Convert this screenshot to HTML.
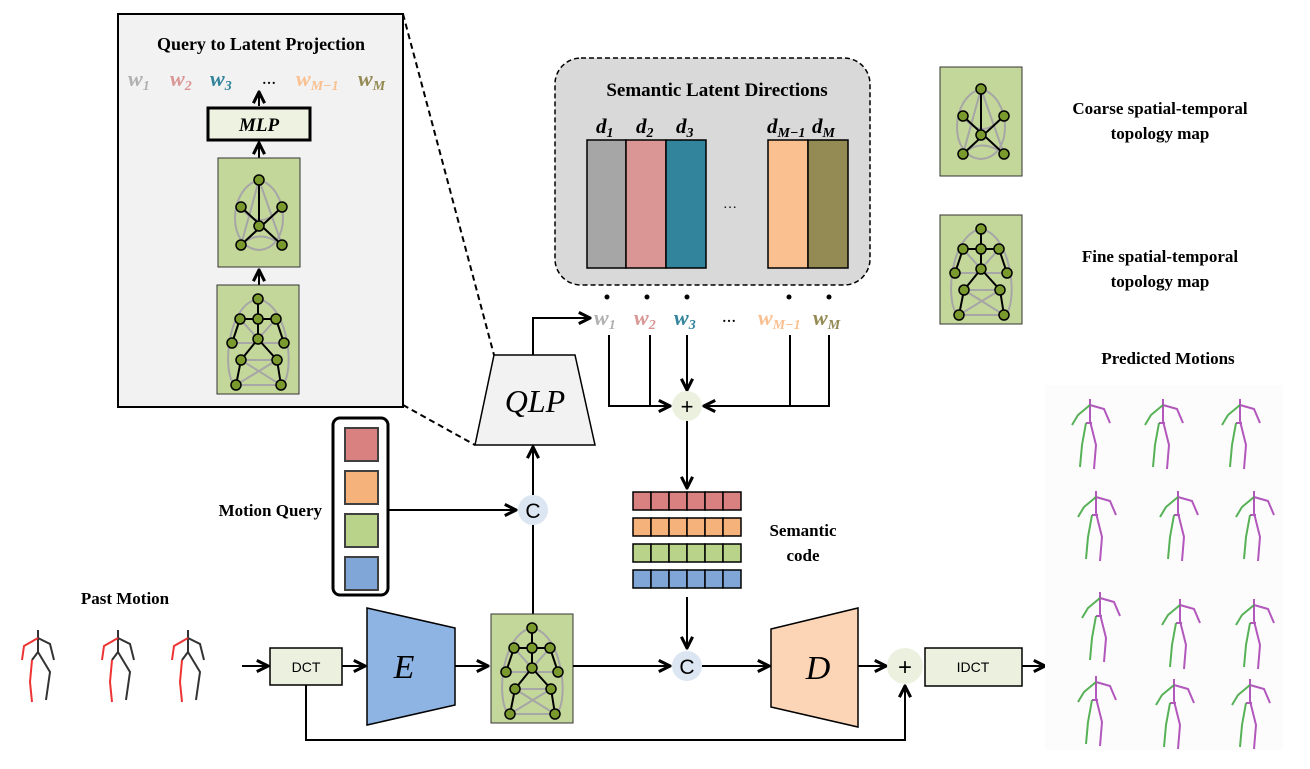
<!DOCTYPE html>
<html><head><meta charset="utf-8"><style>
html,body{margin:0;padding:0;background:#fff}
svg{display:block}
.t{font-family:"Liberation Serif",serif;font-weight:bold}
.s{font-family:"Liberation Sans",sans-serif}
</style></head><body>
<svg width="1310" height="769" viewBox="0 0 1310 769" xmlns="http://www.w3.org/2000/svg">
<defs>
<marker id="a" viewBox="0 0 10 10" refX="9" refY="5" markerWidth="7" markerHeight="7" orient="auto"><path d="M1,1 L9,5 L1,9" fill="none" stroke="#000" stroke-width="2.2"/></marker>
<g id="coarse">
<rect x="0" y="0" width="82" height="109" fill="#c4d79b" stroke="#333" stroke-width="1"/>
<g fill="none" stroke="#a6a6a6" stroke-width="2">
<path d="M41,22 C10,30 8,90 41,92 C74,90 72,30 41,22"/><path d="M23,49 L64,87 M64,49 L23,87 M23,49 Q41,75 64,49 M23,87 Q41,70 64,87 M41,22 L23,87 M41,22 L64,87"/></g>
<g stroke="#000" stroke-width="2"><path d="M41,22 L41,68 M23,49 L64,87 M64,49 L23,87"/></g>
<g fill="#7a9a2e" stroke="#000" stroke-width="1.5"><circle cx="41" cy="22" r="5"/><circle cx="23" cy="49" r="5"/><circle cx="64" cy="49" r="5"/><circle cx="41" cy="68" r="5"/><circle cx="23" cy="87" r="5"/><circle cx="64" cy="87" r="5"/></g>
</g>
<g id="fine">
<rect x="0" y="0" width="82" height="109" fill="#c4d79b" stroke="#333" stroke-width="1"/>
<g fill="none" stroke="#a6a6a6" stroke-width="2">
<path d="M41,14 C8,20 5,95 19,100 L64,100 C78,95 74,20 41,14"/><path d="M19,100 L60,75 M64,100 L24,75 M24,75 L60,75 M15,58 L67,58 M23,34 L41,54 L59,34 M19,100 L64,100"/></g>
<g fill="none" stroke="#000" stroke-width="2"><path d="M41,14 L41,54 M23,34 L59,34 M23,34 L15,58 M59,34 L67,58 M41,54 L24,75 L19,100 M41,54 L60,75 L64,100"/></g>
<g fill="#7a9a2e" stroke="#000" stroke-width="1.5"><circle cx="41" cy="14" r="5"/><circle cx="23" cy="34" r="5"/><circle cx="41" cy="34" r="5"/><circle cx="59" cy="34" r="5"/><circle cx="15" cy="58" r="5"/><circle cx="67" cy="58" r="5"/><circle cx="41" cy="54" r="5"/><circle cx="24" cy="75" r="5"/><circle cx="60" cy="75" r="5"/><circle cx="19" cy="100" r="5"/><circle cx="64" cy="100" r="5"/></g>
</g>
<g id="pm" fill="none" stroke-width="2">
<path d="M20,0 L20,22 L32,42 L28,70 M20,8 L32,14 L36,30 M20,22 L14,30" stroke="#333"/>
<path d="M20,8 L6,16 L4,30 M14,30 L12,52 L14,72" stroke="#e33"/>
</g>
<g id="pr" fill="none" stroke-width="2" stroke-opacity="0.85">
<path d="M18,4 L18,26 L24,50 L22,74 M18,10 L32,14 L38,28 M20,28 L14,28" stroke="#a53ab0"/>
<path d="M18,10 L6,20 L0,30 M14,28 L10,50 L8,72" stroke="#3aa33a"/>
</g>
</defs>

<rect x="118" y="14" width="285" height="393" fill="#f2f2f2" stroke="#000" stroke-width="2"/>
<text x="261" y="50" class="t" font-size="18" text-anchor="middle">Query to Latent Projection</text>
<g class="t" font-size="22" font-style="italic">
<text x="128" y="86" fill="#b0b0b0">w<tspan font-size="14" dy="4">1</tspan></text>
<text x="170" y="86" fill="#d99694">w<tspan font-size="14" dy="4">2</tspan></text>
<text x="210" y="86" fill="#31849b">w<tspan font-size="14" dy="4">3</tspan></text>
<text x="262" y="84" fill="#000" font-size="14" font-style="normal">…</text>
<text x="296" y="86" fill="#fac090">w<tspan font-size="14" dy="4">M−1</tspan></text>
<text x="358" y="86" fill="#948a54">w<tspan font-size="14" dy="4">M</tspan></text>
</g>
<path d="M259,106 L259,92" stroke="#000" stroke-width="2" marker-end="url(#a)"/>
<rect x="208" y="108" width="102" height="32" fill="#eef2e0" stroke="#000" stroke-width="3"/>
<text x="259" y="131" class="t" font-size="19" font-style="italic" text-anchor="middle">MLP</text>
<path d="M259,158 L259,143" stroke="#000" stroke-width="2" marker-end="url(#a)"/>
<use href="#coarse" x="218" y="158"/>
<path d="M259,285 L259,270" stroke="#000" stroke-width="2" marker-end="url(#a)"/>
<use href="#fine" x="217" y="285"/>
<path d="M403,14 L494,355 M403,405 L475,445" stroke="#000" stroke-width="2" stroke-dasharray="6,4" fill="none"/>

<path d="M494,355 L575,355 L595,445 L475,445 Z" fill="#f2f2f2" stroke="#000" stroke-width="1.5"/>
<text x="535" y="412" font-family="Liberation Serif,serif" font-style="italic" font-size="32" text-anchor="middle">QLP</text>
<path d="M533,355 L533,318 L590,318" fill="none" stroke="#000" stroke-width="2" marker-end="url(#a)"/>

<rect x="555" y="58" width="315" height="227" rx="26" fill="#d9d9d9" stroke="#000" stroke-width="1.5" stroke-dasharray="5,3"/>
<text x="717" y="96" class="t" font-size="19" text-anchor="middle">Semantic Latent Directions</text>
<g class="t" font-size="21" font-style="italic">
<text x="596" y="133">d<tspan font-size="14" dy="4">1</tspan></text>
<text x="636" y="133">d<tspan font-size="14" dy="4">2</tspan></text>
<text x="676" y="133">d<tspan font-size="14" dy="4">3</tspan></text>
<text x="767" y="133">d<tspan font-size="14" dy="4">M−1</tspan></text>
<text x="812" y="133">d<tspan font-size="14" dy="4">M</tspan></text>
</g>
<g stroke="#000" stroke-width="1.5">
<rect x="587" y="140" width="39" height="128" fill="#a6a6a6"/>
<rect x="626" y="140" width="40" height="128" fill="#d99694"/>
<rect x="666" y="140" width="40" height="128" fill="#31849b"/>
<rect x="768" y="140" width="40" height="128" fill="#fac090"/>
<rect x="808" y="140" width="40" height="128" fill="#948a54"/>
</g>
<text x="730" y="208" font-size="14" font-family="Liberation Serif,serif" text-anchor="middle">…</text>
<g fill="#000"><circle cx="607" cy="297" r="2.5"/><circle cx="647" cy="297" r="2.5"/><circle cx="687" cy="297" r="2.5"/><circle cx="789" cy="297" r="2.5"/><circle cx="829" cy="297" r="2.5"/></g>
<g class="t" font-size="22" font-style="italic">
<text x="594" y="325" fill="#b0b0b0">w<tspan font-size="14" dy="4">1</tspan></text>
<text x="634" y="325" fill="#d99694">w<tspan font-size="14" dy="4">2</tspan></text>
<text x="674" y="325" fill="#31849b">w<tspan font-size="14" dy="4">3</tspan></text>
<text x="722" y="322" fill="#000" font-size="14" font-style="normal">…</text>
<text x="758" y="325" fill="#fac090">w<tspan font-size="14" dy="4">M−1</tspan></text>
<text x="813" y="325" fill="#948a54">w<tspan font-size="14" dy="4">M</tspan></text>
</g>
<g fill="none" stroke="#000" stroke-width="2">
<path d="M609,335 L609,406 L670,406" marker-end="url(#a)"/>
<path d="M650,335 L650,406"/>
<path d="M687,335 L687,390" marker-end="url(#a)"/>
<path d="M790,335 L790,406"/>
<path d="M829,335 L829,406 L704,406" marker-end="url(#a)"/>
<path d="M687,421 L687,488" marker-end="url(#a)"/>
</g>
<circle cx="687" cy="406" r="15" fill="#ebf1de"/>
<text x="687" y="414" class="s" font-size="22" text-anchor="middle">+</text>

<g stroke="#000" stroke-width="1.5">
<g fill="#d98080"><rect x="633" y="492" width="18" height="18"/><rect x="651" y="492" width="18" height="18"/><rect x="669" y="492" width="18" height="18"/><rect x="687" y="492" width="18" height="18"/><rect x="705" y="492" width="18" height="18"/><rect x="723" y="492" width="18" height="18"/></g>
<g fill="#f5b27a"><rect x="633" y="518" width="18" height="18"/><rect x="651" y="518" width="18" height="18"/><rect x="669" y="518" width="18" height="18"/><rect x="687" y="518" width="18" height="18"/><rect x="705" y="518" width="18" height="18"/><rect x="723" y="518" width="18" height="18"/></g>
<g fill="#b9d48a"><rect x="633" y="544" width="18" height="18"/><rect x="651" y="544" width="18" height="18"/><rect x="669" y="544" width="18" height="18"/><rect x="687" y="544" width="18" height="18"/><rect x="705" y="544" width="18" height="18"/><rect x="723" y="544" width="18" height="18"/></g>
<g fill="#7fa6d6"><rect x="633" y="570" width="18" height="18"/><rect x="651" y="570" width="18" height="18"/><rect x="669" y="570" width="18" height="18"/><rect x="687" y="570" width="18" height="18"/><rect x="705" y="570" width="18" height="18"/><rect x="723" y="570" width="18" height="18"/></g>
</g>
<text x="803" y="536" class="t" font-size="17" text-anchor="middle">Semantic</text>
<text x="803" y="561" class="t" font-size="17" text-anchor="middle">code</text>
<path d="M687,597 L687,648" stroke="#000" stroke-width="2" marker-end="url(#a)"/>

<rect x="333" y="418" width="55" height="177" rx="7" fill="#fff" stroke="#000" stroke-width="3"/>
<g stroke="#404040" stroke-width="2">
<rect x="345" y="428" width="33" height="33" fill="#d98080"/>
<rect x="345" y="471" width="33" height="33" fill="#f5b27a"/>
<rect x="345" y="514" width="33" height="33" fill="#b9d48a"/>
<rect x="345" y="557" width="33" height="33" fill="#7fa6d6"/>
</g>
<text x="322" y="516" class="t" font-size="17" text-anchor="end">Motion Query</text>
<path d="M388,510 L516,510" stroke="#000" stroke-width="2" marker-end="url(#a)"/>
<circle cx="533" cy="510" r="15" fill="#dce6f2"/>
<text x="533" y="518" class="s" font-size="21" text-anchor="middle">C</text>
<path d="M533,495 L533,447" stroke="#000" stroke-width="2" marker-end="url(#a)"/>
<path d="M533,614 L533,525" stroke="#000" stroke-width="2"/>

<text x="125" y="604" class="t" font-size="17" text-anchor="middle">Past Motion</text>
<use href="#pm" x="18" y="630"/><use href="#pm" x="98" y="630"/><use href="#pm" x="168" y="630"/>
<path d="M242,666 L268,666" stroke="#000" stroke-width="2" marker-end="url(#a)"/>
<rect x="270" y="648" width="72" height="37" fill="#ebf1de" stroke="#000" stroke-width="1.5"/>
<text x="306" y="672" class="s" font-size="14" text-anchor="middle">DCT</text>
<path d="M342,666 L365,666" stroke="#000" stroke-width="2" marker-end="url(#a)"/>
<path d="M367,608 L455,628 L455,705 L367,725 Z" fill="#8eb4e3" stroke="#000" stroke-width="1.5"/>
<text x="404" y="678" font-family="Liberation Serif,serif" font-style="italic" font-size="34" text-anchor="middle">E</text>
<path d="M455,666 L488,666" stroke="#000" stroke-width="2" marker-end="url(#a)"/>
<use href="#fine" x="491" y="614"/>
<path d="M573,666 L670,666" stroke="#000" stroke-width="2" marker-end="url(#a)"/>
<circle cx="687" cy="666" r="15" fill="#dce6f2"/>
<text x="687" y="674" class="s" font-size="21" text-anchor="middle">C</text>
<path d="M702,666 L769,666" stroke="#000" stroke-width="2" marker-end="url(#a)"/>
<path d="M771,629 L858,608 L858,727 L771,707 Z" fill="#fbd5b5" stroke="#000" stroke-width="1.5"/>
<text x="818" y="679" font-family="Liberation Serif,serif" font-style="italic" font-size="34" text-anchor="middle">D</text>
<path d="M858,666 L886,666" stroke="#000" stroke-width="2" marker-end="url(#a)"/>
<circle cx="905" cy="666" r="18" fill="#ebf1de"/>
<text x="905" y="675" class="s" font-size="24" text-anchor="middle">+</text>
<rect x="925" y="648" width="97" height="38" fill="#ebf1de" stroke="#000" stroke-width="1.5"/>
<text x="973" y="672" class="s" font-size="14" text-anchor="middle">IDCT</text>
<path d="M1022,666 L1045,666" stroke="#000" stroke-width="2" marker-end="url(#a)"/>
<path d="M306,685 L306,740 L905,740 L905,686" fill="none" stroke="#000" stroke-width="2" marker-end="url(#a)"/>

<use href="#coarse" x="940" y="67"/>
<use href="#fine" x="940" y="215"/>
<text x="1160" y="114" class="t" font-size="17" text-anchor="middle">Coarse spatial-temporal</text>
<text x="1160" y="139" class="t" font-size="17" text-anchor="middle">topology map</text>
<text x="1160" y="262" class="t" font-size="17" text-anchor="middle">Fine spatial-temporal</text>
<text x="1160" y="287" class="t" font-size="17" text-anchor="middle">topology map</text>
<text x="1168" y="364" class="t" font-size="17" text-anchor="middle">Predicted Motions</text>
<rect x="1045" y="385" width="238" height="365" fill="#fcfcfc"/>
<use href="#pr" x="1072" y="395"/><use href="#pr" x="1145" y="395"/><use href="#pr" x="1222" y="395"/>
<use href="#pr" x="1078" y="487"/><use href="#pr" x="1160" y="487"/><use href="#pr" x="1236" y="487"/>
<use href="#pr" x="1082" y="588"/><use href="#pr" x="1162" y="595"/><use href="#pr" x="1236" y="595"/>
<use href="#pr" x="1078" y="672"/><use href="#pr" x="1156" y="675"/><use href="#pr" x="1232" y="675"/>
</svg>
</body></html>
